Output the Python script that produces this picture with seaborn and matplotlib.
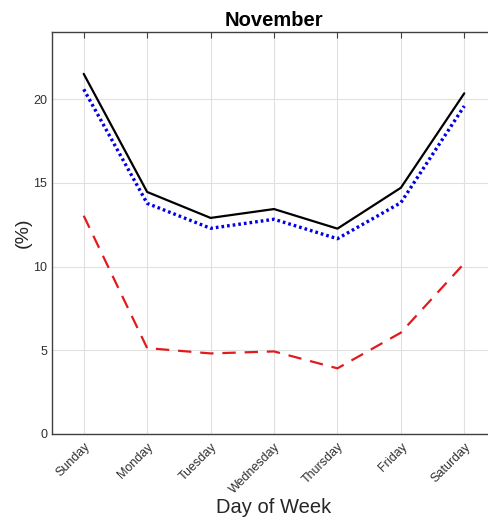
import matplotlib
matplotlib.use("Agg")
import matplotlib.pyplot as plt
import seaborn as sns
import pandas as pd

days = ["Sunday", "Monday", "Tuesday", "Wednesday", "Thursday", "Friday", "Saturday"]
series_total = [21.5, 14.45, 12.9, 13.43, 12.26, 14.7, 20.34]
series_blue = [20.58, 13.77, 12.28, 12.82, 11.66, 13.81, 19.58]
series_red = [13.03, 5.13, 4.81, 4.93, 3.92, 6.05, 10.19]
yticks = [0, 5, 10, 15, 20]

sns.set_style("white")
plt.rcParams["font.family"] = ["Liberation Sans", "DejaVu Sans"]

fig = plt.figure(figsize=(4.89, 5.20), dpi=100)
ax = fig.add_axes([52 / 489, 1 - 434 / 520, 444 / 489, (434 - 32) / 520])

df = pd.DataFrame({"day": days, "a": series_total, "b": series_blue, "c": series_red})
sns.lineplot(data=df, x="day", y="a", ax=ax, color="black", lw=1.6, sort=False)
sns.lineplot(data=df, x="day", y="b", ax=ax, color="#0000e6", lw=2.4, sort=False,
             linestyle=(0, (0.8, 0.9)))
sns.lineplot(data=df, x="day", y="c", ax=ax, color="#e31a1c", lw=1.6, sort=False,
             linestyle=(0, (6, 4)))

ax.set_xlim(-0.5, 6.5)
ax.set_ylim(0, 24)
ax.set_yticks(yticks)
ax.set_xticks(range(len(days)))
ax.set_xticklabels(days, rotation=45, ha="right", rotation_mode="anchor")
ax.grid(True, color="#e0e0e0", lw=0.8)
ax.set_axisbelow(True)
for s in ax.spines.values():
    s.set_visible(True)
    s.set_color("#404040")
    s.set_linewidth(1.0)
ax.tick_params(axis="both", direction="in", length=4, color="#404040",
               labelsize=9, labelcolor="#303030", top=True, right=False)
ax.tick_params(axis="x", pad=5, labelsize=9)
ax.set_title("November", fontsize=14.5, fontweight="bold", pad=4, color="black")
ax.set_xlabel("Day of Week", fontsize=14.5, color="#262626", va="top")
ax.xaxis.set_label_coords(0.5, -0.158)
ax.set_ylabel("(%)", fontsize=14, color="#262626")
ax.yaxis.set_label_coords(-0.045, 0.5)

fig.savefig("out.png", dpi=100)
